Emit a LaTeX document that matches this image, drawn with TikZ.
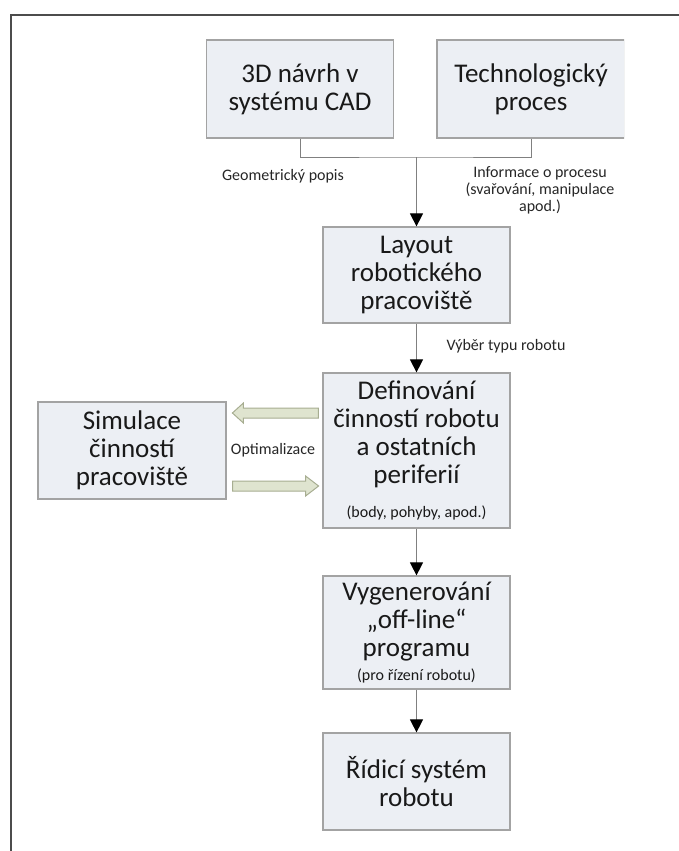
\documentclass[tikz,border=0pt]{standalone}
\usepackage{fontspec}
\setmainfont{Carlito}
\usetikzlibrary{arrows.meta}
\usetikzlibrary{positioning}
\definecolor{mfill}{rgb}{0.925, 0.937, 0.957}
\definecolor{mgray}{rgb}{0.64, 0.64, 0.64}
\definecolor{mline}{rgb}{0.5, 0.5, 0.5}
\definecolor{mgreen}{rgb}{0.875, 0.894, 0.812}
\definecolor{mgreenline}{rgb}{0.655, 0.678, 0.569}
\definecolor{mframe}{rgb}{0.3, 0.3, 0.3}
\tikzset{
  box/.style={draw=mgray, fill=mfill, line width=1.2pt, inner sep=0pt, minimum width=187pt,
    align=center, text=black!90, font=\fontsize{27}{28}\selectfont},
  note/.style={align=center, inner sep=0pt, text=black!85, font=\fontsize{16}{17}\selectfont},
  flow/.style={draw=mline, line width=1pt, -{Triangle[length=13pt, width=13pt, color=black]}},
  fat/.style={fill=mgreen, draw=mgreenline, line width=1pt, line join=miter}
}
\newcommand{\smalltext}[1]{{\fontsize{16}{17}\selectfont #1}}

\begin{document}
\begin{tikzpicture}[x=1pt, y=-1pt]
    \useasboundingbox (0,0) rectangle (679,851);
    \draw [mframe, line width=2pt] (11,851) -- (11,15) -- (679,15);

    \node [box, minimum height=98pt] (cad) at (300,89) {3D návrh v\\systému CAD};
    \begin{scope}
      \clip (0,0) rectangle (624,851);
      \node [box, minimum height=98pt, minimum width=188pt] (tech) at (531,89) {Technologický\\proces};
    \end{scope}
    \node [box, minimum height=96pt] (layout) at (416.5,275) {Layout\\robotického\\pracoviště};
    \node [box, minimum height=155pt] (define) at (416.5,450.5)
      {Definování\\činností robotu\\a ostatních\\periferií\\[6pt]\smalltext{(body, pohyby, apod.)}};
    \node [box, minimum height=97pt, minimum width=188pt] (sim) at (132,450.5) {Simulace\\činností\\pracoviště};
    \node [box, minimum height=113pt] (gen) at (416.5,632.5)
      {Vygenerování\\„off-line“\\programu\\[-4pt]\smalltext{(pro řízení robotu)}};
    \node [box, minimum height=97pt] (ctrl) at (416.5,781.5) {Řídicí systém\\robotu};

    \node [note] (geo) at (283,176) {Geometrický popis};
    \node [note] (info) at (540,190.5) {Informace o procesu\\(svařování, manipulace\\apod.)};
    \node [note] (typ) at (506,346) {Výběr typu robotu};
    \node [note] (opt) at (273,450) {Optimalizace};

    \coordinate (join) at (layout.north |- 0,157);
    \draw [mline, line width=1pt] (cad.south) |- (join) -| (tech.south);
    \draw [flow] (join) -- (layout.north);
    \draw [flow] (layout) -- (define);
    \draw [flow] (define) -- (gen);
    \draw [flow] (gen) -- (ctrl);

    \coordinate (optL) at ([xshift=-4pt, yshift=37.5pt]define.west);
    \coordinate (optR) at ([xshift=6pt, yshift=-35.5pt]sim.east);
    \filldraw [fat] (optL) -- ++(0,-5) -- ++(-75,0) -- ++(0,-5) -- ++(-11,10) -- ++(11,10) -- ++(0,-5) -- ++(75,0) -- cycle;
    \filldraw [fat] (optR) -- ++(0,-5) -- ++(73,0) -- ++(0,-5) -- ++(13,10) -- ++(-13,10) -- ++(0,-5) -- ++(-73,0) -- cycle;
\end{tikzpicture}
\end{document}
